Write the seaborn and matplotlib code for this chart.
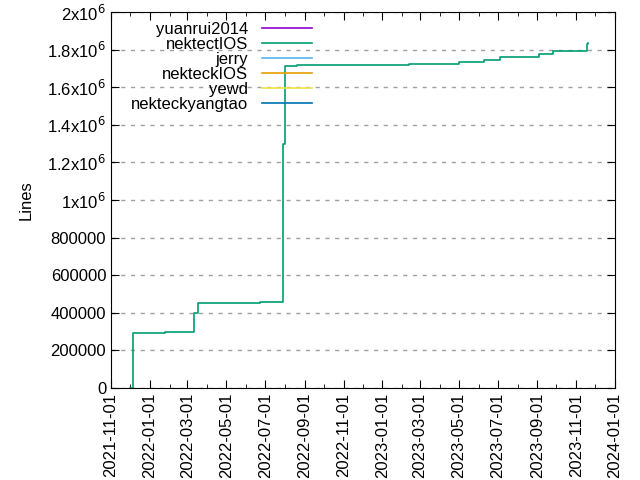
import matplotlib
matplotlib.use("Agg")
import matplotlib.pyplot as plt
import matplotlib.dates as mdates
import seaborn as sns
import pandas as pd

plt.rcParams["font.family"] = "Liberation Sans"

dates = ["2021-12-01", "2021-12-06", "2022-01-05", "2022-01-25", "2022-03-06", "2022-03-12",
         "2022-03-18", "2022-04-10", "2022-06-23", "2022-07-21", "2022-07-29", "2022-08-01",
         "2022-08-20", "2023-02-12", "2023-05-01", "2023-06-10", "2023-07-05", "2023-09-04",
         "2023-09-25", "2023-11-11", "2023-11-18", "2023-11-20"]
lines = [0, 290000, 293000, 297000, 300000, 400000,
         450000, 452000, 455000, 460000, 1300000, 1715000,
         1720000, 1725000, 1735000, 1745000, 1760000, 1775000,
         1790000, 1795000, 1830000, 1835000]
series_names = ["yuanrui2014", "nektectIOS", "jerry", "nekteckIOS", "yewd", "nekteckyangtao"]
series_colors = ["#9400d3", "#009e73", "#56b4e9", "#e69f00", "#f0e442", "#0072b2"]
yticks = [0, 200000, 400000, 600000, 800000, 1000000, 1200000, 1400000, 1600000, 1800000, 2000000]
ytick_labels = ["0", "200000", "400000", "600000", "800000", r"1x10$^6$", r"1.2x10$^6$",
                r"1.4x10$^6$", r"1.6x10$^6$", r"1.8x10$^6$", r"2x10$^6$"]
xticks = ["2021-11-01", "2022-01-01", "2022-03-01", "2022-05-01", "2022-07-01", "2022-09-01",
          "2022-11-01", "2023-01-01", "2023-03-01", "2023-05-01", "2023-07-01", "2023-09-01",
          "2023-11-01", "2024-01-01"]

df = pd.DataFrame({"date": pd.to_datetime(dates), "lines": lines})

fig = plt.figure(figsize=(6.4, 4.8), dpi=100)
ax = fig.add_axes([111/640, 1-388/480, (615-111)/640, (388-12)/480])
for name, c in zip(series_names, series_colors):
    if name == "nektectIOS":
        sns.lineplot(data=df, x="date", y="lines", ax=ax, color=c, lw=1.2,
                     drawstyle="steps-post", label=name)
    else:
        ax.plot([], [], color=c, lw=1.2, label=name)

ax.set_xlim(pd.Timestamp(xticks[0]), pd.Timestamp(xticks[-1]))
ax.set_ylim(0, 2000000)
ax.set_yticks(yticks)
ax.set_yticklabels(ytick_labels, fontsize=12)
ax.set_xticks(pd.to_datetime(xticks))
ax.set_xticklabels(xticks, rotation=90, fontsize=12)
ax.xaxis.set_minor_locator(mdates.MonthLocator())
ax.tick_params(which="both", direction="in", top=True, right=True)
ax.tick_params(which="major", length=6)
ax.tick_params(which="minor", length=3)
ax.grid(axis="y", linestyle=(0, (3, 4)), color="#a0a0a0", lw=1)
ax.set_xlabel("")
ax.set_ylabel("Lines", fontsize=12, labelpad=10)
leg = ax.legend(loc="upper left", frameon=False, markerfirst=False, fontsize=12,
                handlelength=3, labelspacing=0.0, borderaxespad=0.2,
                bbox_to_anchor=(0.02, 1.0))
for t in leg.get_texts():
    t.set_ha("right")
leg._legend_box.align = "right"
fig.savefig("out.png", dpi=100)
